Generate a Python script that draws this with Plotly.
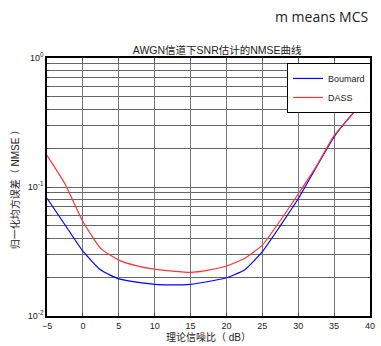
import plotly.graph_objects as go

snr = [-5, -2.5, 0, 2.5, 5, 7.5, 10, 12.5, 15, 17.5, 20, 22.5, 25, 27.5, 30, 32.5, 35, 37.5, 40]
boumard = [0.0818, 0.051, 0.0318, 0.0227, 0.0194, 0.0183, 0.0176, 0.0174, 0.0176, 0.0185, 0.0198,
           0.0227, 0.0315, 0.050, 0.081, 0.142, 0.245, 0.365, 0.515]
dass = [0.176, 0.106, 0.054, 0.0333, 0.0271, 0.0245, 0.0231, 0.0223, 0.0218, 0.0227, 0.0244,
        0.0279, 0.0354, 0.055, 0.0883, 0.144, 0.25, 0.365, 0.52]

x_ticks = [-5, 0, 5, 10, 15, 20, 25, 30, 35, 40]
y_ticks = [0.01, 0.1, 1]
y_ticktext = ["10<sup>-2</sup>", "10<sup>-1</sup>", "10<sup>0</sup>"]
y_minor = [m * 10 ** e for e in (-2, -1) for m in range(2, 10)]

FONT = "Liberation Sans, Arial, Noto Sans CJK SC"

fig = go.Figure()
fig.add_trace(go.Scatter(x=snr, y=boumard, mode="lines", name="Boumard",
                         line=dict(color="#0000ff", width=1.2, shape="spline", smoothing=0.5)))
fig.add_trace(go.Scatter(x=snr, y=dass, mode="lines", name="DASS",
                         line=dict(color="#ff3333", width=1.2, shape="spline", smoothing=0.5)))

fig.update_layout(
    width=381, height=346,
    margin=dict(l=47, r=6, t=58, b=28),
    paper_bgcolor="white", plot_bgcolor="white",
    font=dict(family=FONT, size=9, color="#222"),
    title=dict(text="AWGN信道下SNR估计的NMSE曲线", x=0.57, xanchor="center",
               y=1 - 50 / 346, yanchor="middle", font=dict(size=10.5, family=FONT)),
    showlegend=True,
    legend=dict(x=1.003, xanchor="right", y=1 - 5 / 260, yanchor="top",
                bgcolor="white", bordercolor="black", borderwidth=1,
                font=dict(size=9, family=FONT), tracegroupgap=0, itemwidth=30),
    annotations=[dict(text="m means MCS", x=1.0, y=1.0, xref="paper", yref="paper",
                      xanchor="right", yanchor="bottom", yshift=30, showarrow=False,
                      font=dict(family="Open Sans", size=14, color="#222"))],
)

fig.update_xaxes(range=[-5, 40], tickvals=x_ticks, ticks="inside", ticklen=3,
                 showgrid=True, gridcolor="#777", gridwidth=1,
                 showline=True, linecolor="black", linewidth=1.5, mirror="ticks",
                 zeroline=False, tickfont=dict(size=9),
                 title=dict(text="理论信噪比（ dB）", font=dict(size=10), standoff=2))
fig.update_yaxes(type="log", range=[-2, 0], tickvals=y_ticks, ticktext=y_ticktext,
                 ticks="inside", ticklen=3,
                 showgrid=True, gridcolor="#666", gridwidth=1,
                 minor=dict(tickvals=y_minor, showgrid=True, gridcolor="#666", ticks="inside", ticklen=2),
                 showline=True, linecolor="black", linewidth=1.5, mirror="ticks",
                 zeroline=False, tickfont=dict(size=9),
                 title=dict(text="归一化均方误差（ NMSE ）", font=dict(size=10), standoff=6))

fig.write_html("out.html", config={"displayModeBar": False},
               post_script="document.body.style.margin='0';document.body.style.overflow='hidden';")
